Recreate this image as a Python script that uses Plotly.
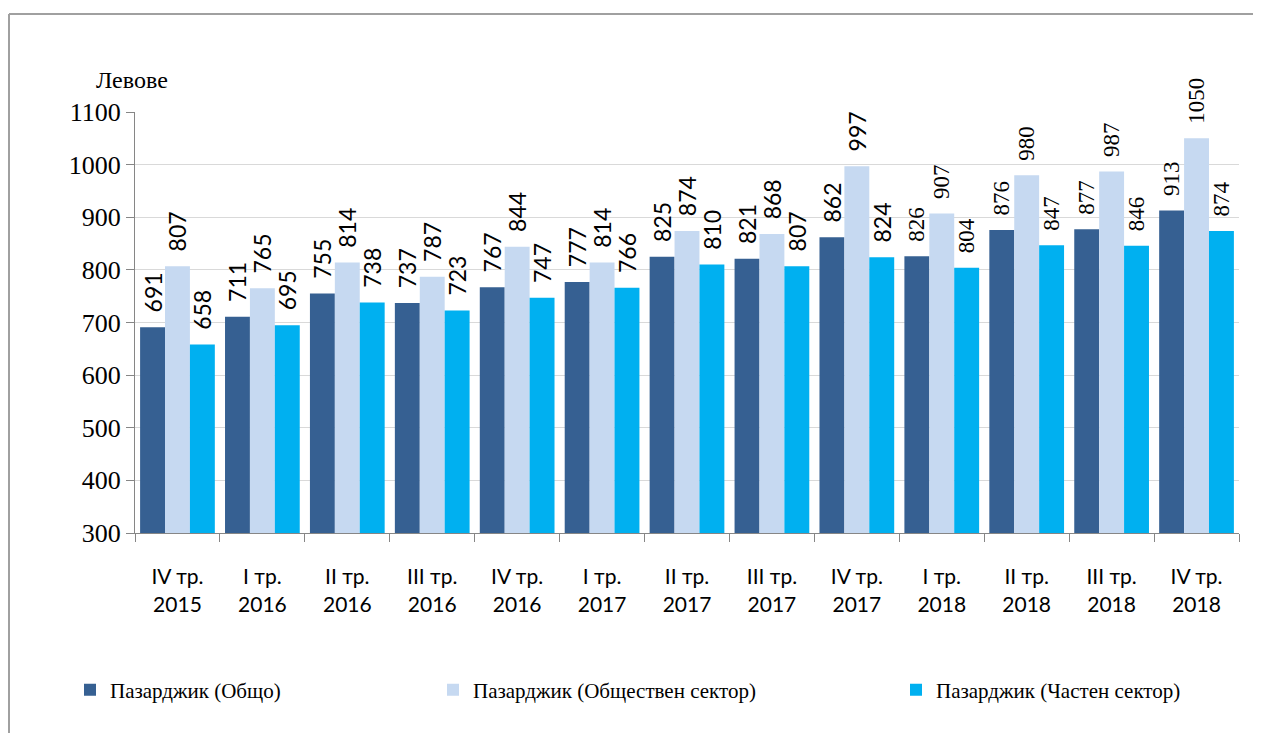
import plotly.graph_objects as go

categories = ["IV тр.<br>2015", "I тр.<br>2016", "II тр.<br>2016", "III тр.<br>2016",
              "IV тр.<br>2016", "I тр.<br>2017", "II тр.<br>2017", "III тр.<br>2017",
              "IV тр.<br>2017", "I тр.<br>2018", "II тр.<br>2018", "III тр.<br>2018",
              "IV тр.<br>2018"]
total = [691, 711, 755, 737, 767, 777, 825, 821, 862, 826, 876, 877, 913]
public = [807, 765, 814, 787, 844, 814, 874, 868, 997, 907, 980, 987, 1050]
private = [658, 695, 738, 723, 747, 766, 810, 807, 824, 804, 847, 846, 874]
series_names = ["Пазарджик (Общо)", "Пазарджик (Обществен сектор)", "Пазарджик (Частен сектор)"]
colors = ["#366092", "#C6D9F1", "#00B0F0"]

OFF = 8  # browser body margin
W, H = 1261 - OFF, 733 - OFF
L, R, T, B = 135 - OFF, 1239 - OFF, 112 - OFF, 533 - OFF
pw, ph = R - L, B - T

def px(x):
    return (x - OFF - L) / pw

def py(y):
    return (B - (y - OFF)) / ph

SERIF = "Liberation Serif, Times New Roman, serif"
SANS = "Lato, Liberation Sans, sans-serif"
label_fonts = [SANS] * 9 + [SERIF] * 4

fig = go.Figure()
legends = ["legend", "legend2", "legend3"]
for name, vals, col, lg in zip(series_names, [total, public, private], colors, legends):
    fig.add_trace(go.Bar(
        x=categories, y=vals, name=name, marker=dict(color=col, line=dict(width=0)),
        text=["\u00a0\u00a0" + str(v) for v in vals], textposition="outside", textangle=-90,
        textfont=dict(family=label_fonts, size=23, color="black"),
        constraintext="none", cliponaxis=False, legend=lg,
    ))

legend_common = dict(orientation="h", yanchor="middle", xanchor="left",
                     font=dict(family=SERIF, size=21, color="black"),
                     bgcolor="rgba(0,0,0,0)", itemwidth=30, tracegroupgap=0)
fig.update_layout(
    width=W, height=H,
    margin=dict(l=L, r=W - R, t=T, b=H - B),
    paper_bgcolor="white", plot_bgcolor="white",
    barmode="group", bargap=0.12, bargroupgap=0,
    showlegend=True,
    legend=dict(x=px(70), y=py(690), **legend_common),
    legend2=dict(x=px(433), y=py(690), **legend_common),
    legend3=dict(x=px(896), y=py(690), **legend_common),
    xaxis=dict(showline=True, linecolor="#868686", linewidth=1,
               ticks="outside", ticklen=8, tickcolor="#868686", tickson="boundaries",
               tickfont=dict(family=SANS, size=21, color="black"),
               ticklabelstandoff=25, showgrid=False),
    yaxis=dict(range=[300, 1100], dtick=100, showline=True, linecolor="#868686", linewidth=1,
               ticks="outside", ticklen=8, tickcolor="#868686",
               gridcolor="#D9D9D9", gridwidth=1, zeroline=False,
               tickfont=dict(family=SERIF, size=26, color="black")),
    annotations=[dict(text="Левове", xref="paper", yref="paper", x=px(94), y=py(80),
                      xanchor="left", yanchor="middle", showarrow=False,
                      font=dict(family=SERIF, size=24, color="black"))],
    shapes=[
        dict(type="line", xref="paper", yref="paper", x0=px(9), x1=px(1270), y0=py(14), y1=py(14),
             line=dict(color="#A0A0A0", width=2)),
        dict(type="line", xref="paper", yref="paper", x0=px(9), x1=px(9), y0=py(14), y1=py(745),
             line=dict(color="#A0A0A0", width=2)),
    ],
)

fig.write_html("out.html")
